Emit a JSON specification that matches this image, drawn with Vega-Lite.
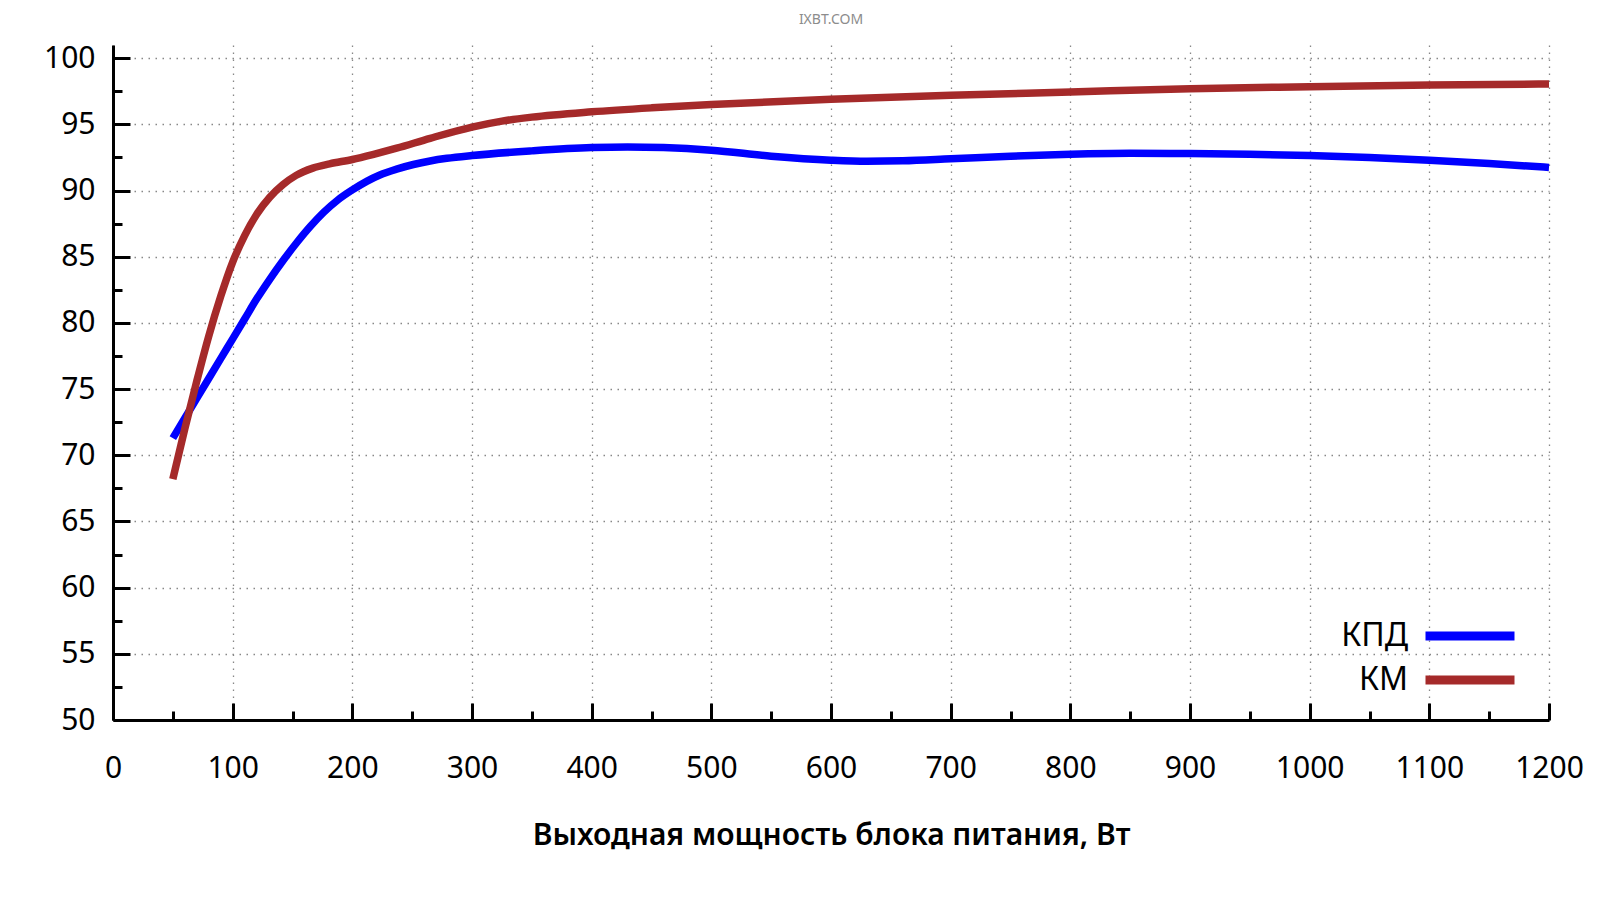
{
  "$schema": "https://vega.github.io/schema/vega-lite/v6.json",
  "width": 1436,
  "height": 675,
  "autosize": {"type": "none"},
  "padding": {"left": 113, "top": 45, "right": 51, "bottom": 180},
  "background": "white",
  "config": {"view": {"stroke": null}, "font": "Noto Sans"},
  "title": {"text": "IXBT.COM", "fontSize": 14, "color": "#8c8c8c", "font": "Noto Sans", "fontWeight": "normal", "anchor": "middle", "frame": "group", "baseline": "middle", "offset": 9},
  "data": {"values": [
    {"W": 50, "value": 71.3, "series": "КПД"},
    {"W": 60, "value": 72.8, "series": "КПД"},
    {"W": 70, "value": 74.3, "series": "КПД"},
    {"W": 80, "value": 75.8, "series": "КПД"},
    {"W": 90, "value": 77.3, "series": "КПД"},
    {"W": 100, "value": 78.8, "series": "КПД"},
    {"W": 110, "value": 80.3, "series": "КПД"},
    {"W": 120, "value": 81.8, "series": "КПД"},
    {"W": 131, "value": 83.3, "series": "КПД"},
    {"W": 142, "value": 84.7, "series": "КПД"},
    {"W": 153, "value": 86.0, "series": "КПД"},
    {"W": 165, "value": 87.3, "series": "КПД"},
    {"W": 176, "value": 88.35, "series": "КПД"},
    {"W": 188, "value": 89.3, "series": "КПД"},
    {"W": 200, "value": 90.05, "series": "КПД"},
    {"W": 212, "value": 90.7, "series": "КПД"},
    {"W": 223, "value": 91.18, "series": "КПД"},
    {"W": 237, "value": 91.62, "series": "КПД"},
    {"W": 251, "value": 91.97, "series": "КПД"},
    {"W": 265, "value": 92.24, "series": "КПД"},
    {"W": 279, "value": 92.44, "series": "КПД"},
    {"W": 300, "value": 92.65, "series": "КПД"},
    {"W": 350, "value": 93.0, "series": "КПД"},
    {"W": 400, "value": 93.25, "series": "КПД"},
    {"W": 430, "value": 93.3, "series": "КПД"},
    {"W": 460, "value": 93.25, "series": "КПД"},
    {"W": 500, "value": 93.05, "series": "КПД"},
    {"W": 550, "value": 92.6, "series": "КПД"},
    {"W": 600, "value": 92.3, "series": "КПД"},
    {"W": 630, "value": 92.22, "series": "КПД"},
    {"W": 660, "value": 92.25, "series": "КПД"},
    {"W": 700, "value": 92.4, "series": "КПД"},
    {"W": 750, "value": 92.6, "series": "КПД"},
    {"W": 800, "value": 92.75, "series": "КПД"},
    {"W": 850, "value": 92.82, "series": "КПД"},
    {"W": 900, "value": 92.8, "series": "КПД"},
    {"W": 950, "value": 92.75, "series": "КПД"},
    {"W": 1000, "value": 92.65, "series": "КПД"},
    {"W": 1050, "value": 92.5, "series": "КПД"},
    {"W": 1100, "value": 92.3, "series": "КПД"},
    {"W": 1150, "value": 92.05, "series": "КПД"},
    {"W": 1200, "value": 91.75, "series": "КПД"},
    {"W": 50, "value": 68.2, "series": "КМ"},
    {"W": 60, "value": 72.0, "series": "КМ"},
    {"W": 70, "value": 75.6, "series": "КМ"},
    {"W": 80, "value": 79.0, "series": "КМ"},
    {"W": 90, "value": 82.0, "series": "КМ"},
    {"W": 100, "value": 84.6, "series": "КМ"},
    {"W": 110, "value": 86.6, "series": "КМ"},
    {"W": 120, "value": 88.2, "series": "КМ"},
    {"W": 131, "value": 89.5, "series": "КМ"},
    {"W": 142, "value": 90.45, "series": "КМ"},
    {"W": 153, "value": 91.15, "series": "КМ"},
    {"W": 167, "value": 91.7, "series": "КМ"},
    {"W": 181, "value": 92.02, "series": "КМ"},
    {"W": 200, "value": 92.35, "series": "КМ"},
    {"W": 217, "value": 92.72, "series": "КМ"},
    {"W": 237, "value": 93.2, "series": "КМ"},
    {"W": 265, "value": 93.95, "series": "КМ"},
    {"W": 300, "value": 94.8, "series": "КМ"},
    {"W": 325, "value": 95.25, "series": "КМ"},
    {"W": 350, "value": 95.55, "series": "КМ"},
    {"W": 400, "value": 95.95, "series": "КМ"},
    {"W": 450, "value": 96.25, "series": "КМ"},
    {"W": 500, "value": 96.5, "series": "КМ"},
    {"W": 600, "value": 96.9, "series": "КМ"},
    {"W": 700, "value": 97.2, "series": "КМ"},
    {"W": 800, "value": 97.45, "series": "КМ"},
    {"W": 900, "value": 97.7, "series": "КМ"},
    {"W": 1000, "value": 97.85, "series": "КМ"},
    {"W": 1100, "value": 97.98, "series": "КМ"},
    {"W": 1200, "value": 98.05, "series": "КМ"}
  ]},
  "layer": [
    {
      "mark": {"type": "point", "opacity": 0},
      "encoding": {
        "x": {"field": "W", "type": "quantitative", "scale": {"domain": [0, 1200], "nice": false},
          "axis": {"orient": "bottom", "values": [50, 150, 250, 350, 450, 550, 650, 750, 850, 950, 1050, 1150], "labels": false, "grid": false, "domain": false, "title": null, "tickSize": -9, "tickWidth": 3, "tickColor": "black"}},
        "y": {"field": "value", "type": "quantitative", "scale": {"domain": [50, 101], "nice": false, "zero": false},
          "axis": {"orient": "left", "values": [52.5, 57.5, 62.5, 67.5, 72.5, 77.5, 82.5, 87.5, 92.5, 97.5], "labels": false, "grid": false, "domain": false, "title": null, "tickSize": -9, "tickWidth": 3, "tickColor": "black"}}
      }
    },
    {
      "mark": {"type": "line", "strokeWidth": 7.5, "interpolate": "monotone"},
      "encoding": {
        "x": {"field": "W", "type": "quantitative", "scale": {"domain": [0, 1200], "nice": false},
          "axis": {"orient": "bottom", "values": [0, 100, 200, 300, 400, 500, 600, 700, 800, 900, 1000, 1100, 1200], "format": "d",
            "title": "Выходная мощность блока питания, Вт", "titleFontSize": 30, "titleFontWeight": 600, "titleColor": "black", "titlePadding": 37,
            "grid": true, "gridColor": "#888888", "gridDash": [1.5, 5.5], "gridWidth": 1.3,
            "tickSize": -17, "tickWidth": 3, "tickColor": "black", "domainWidth": 3, "domainColor": "black",
            "labelFontSize": 30, "labelColor": "black", "labelPadding": 50, "labelFlush": false, "labelOverlap": false}},
        "y": {"field": "value", "type": "quantitative", "scale": {"domain": [50, 101], "nice": false, "zero": false},
          "axis": {"orient": "left", "values": [50, 55, 60, 65, 70, 75, 80, 85, 90, 95, 100], "title": null,
            "grid": true, "gridColor": "#888888", "gridDash": [1.5, 5.5], "gridWidth": 1.3,
            "tickSize": -17, "tickWidth": 3, "tickColor": "black", "domainWidth": 3, "domainColor": "black",
            "labelFontSize": 30, "labelColor": "black", "labelPadding": 35, "labelFlush": false, "labelOverlap": false}},
        "color": {"field": "series", "type": "nominal", "sort": ["КПД", "КМ"],
          "scale": {"domain": ["КПД", "КМ"], "range": ["#0000ff", "#a52a2a"]},
          "legend": {"orient": "none", "legendX": 1337.5, "legendY": 571.5, "title": null, "padding": 0,
            "symbolType": "M-3,0H3", "symbolStrokeWidth": 9, "symbolSize": 880, "symbolStrokeCap": "butt",
            "labelFontSize": 32, "labelColor": "black", "labelAlign": "right", "labelOffset": -81.5, "labelLimit": 0,
            "rowPadding": 6}}
      }
    }
  ],
  "resolve": {"axis": {"x": "independent", "y": "independent"}}
}
